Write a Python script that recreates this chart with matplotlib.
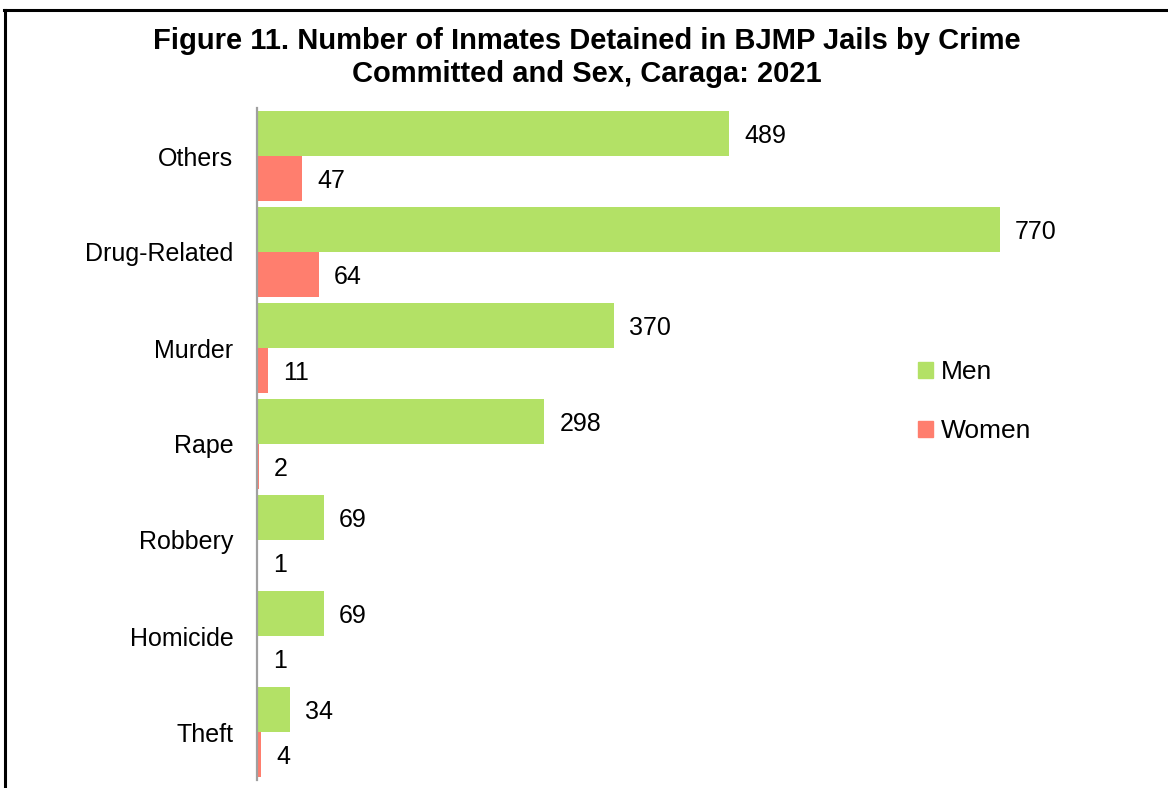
import matplotlib.pyplot as plt
from matplotlib.lines import Line2D
from matplotlib.patches import Patch
import numpy as np

plt.rcParams['font.family'] = ['Liberation Sans', 'DejaVu Sans']

categories = ['Others', 'Drug-Related', 'Murder', 'Rape', 'Robbery', 'Homicide', 'Theft']
men = [489, 770, 370, 298, 69, 69, 34]
women = [47, 64, 11, 2, 1, 1, 4]

men_color = '#B3E166'
women_color = '#FF7E6E'

W, H = 1168, 788
fig = plt.figure(figsize=(W / 100, H / 100), dpi=100)
ax = fig.add_axes([257 / W, 1 - 780 / H, 868 / W, 672 / H])

y = np.arange(len(categories))
h = 0.47
ax.barh(y - h / 2, men, height=h, color=men_color, label='Men')
ax.barh(y + h / 2, women, height=h, color=women_color, label='Women')

for yi, v in zip(y - h / 2, men):
    ax.annotate(str(v), (v, yi), xytext=(11, -2), textcoords='offset points',
                va='center', ha='left', fontsize=18)
for yi, v in zip(y + h / 2, women):
    ax.annotate(str(v), (v, yi), xytext=(11, -2), textcoords='offset points',
                va='center', ha='left', fontsize=18)

ax.set_xlim(0, 900)
ax.set_ylim(len(categories) - 0.5, -0.5)
ax.set_yticks(y)
ax.set_yticklabels(categories, fontsize=18)
ax.tick_params(axis='y', length=0, pad=17)
ax.set_xticks([])
for s in ['top', 'right', 'bottom']:
    ax.spines[s].set_visible(False)
ax.spines['left'].set_color('#A0A0A0')
ax.spines['left'].set_linewidth(1.6)

handles = [Patch(color=men_color), Patch(color=women_color)]
fig.legend(handles, ['Men', 'Women'], loc='upper left',
           bbox_to_anchor=(918 / W, 1 - 360 / H), frameon=False,
           fontsize=19, handlelength=0.55, handleheight=0.55,
           handletextpad=0.3, labelspacing=1.34, borderpad=0, borderaxespad=0)

fig.text(0.502, 1 - 27 / H,
         'Figure 11. Number of Inmates Detained in BJMP Jails by Crime\nCommitted and Sex, Caraga: 2021',
         ha='center', va='top', fontsize=21, fontweight='bold', linespacing=1.22)

# frame around the figure (top and left edges visible)
fig.add_artist(Line2D([4 / W, 1], [1 - 9.5 / H, 1 - 9.5 / H], color='black', lw=2.2,
                      transform=fig.transFigure))
fig.add_artist(Line2D([5 / W, 5 / W], [0, 1 - 9.5 / H], color='black', lw=2.2,
                      transform=fig.transFigure))

fig.savefig('out.png', dpi=100)
